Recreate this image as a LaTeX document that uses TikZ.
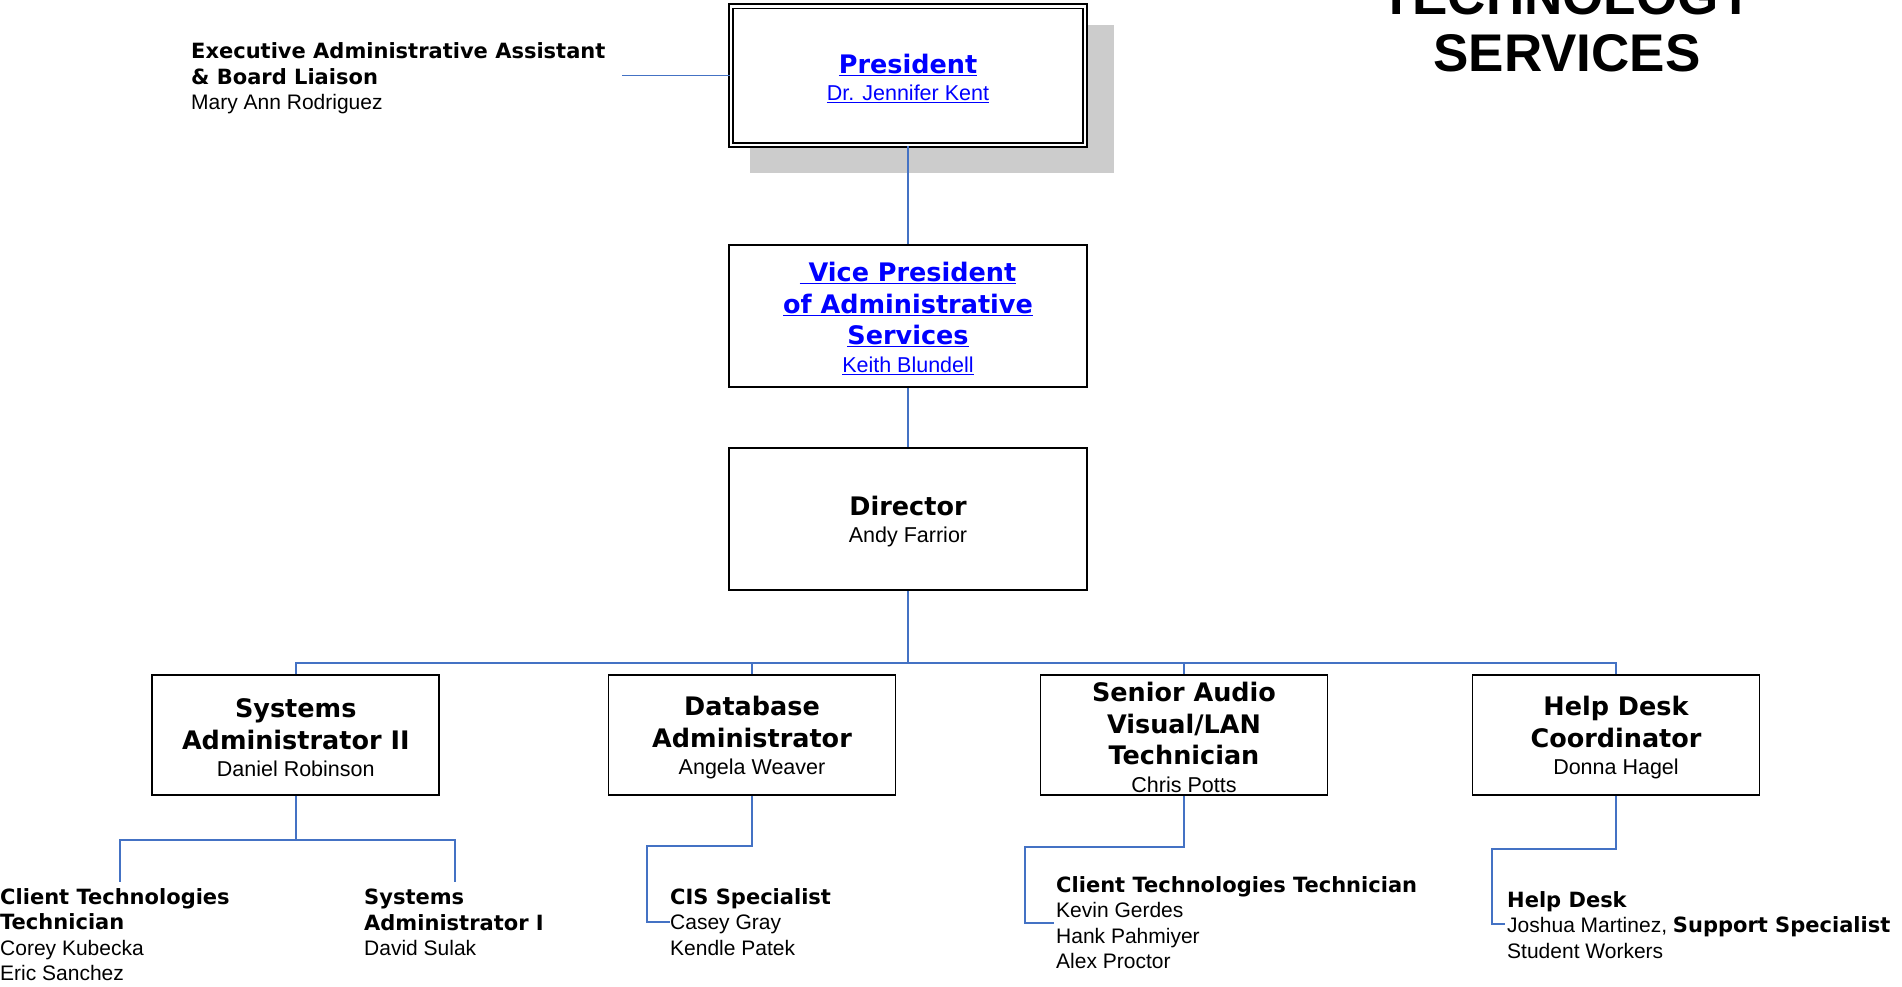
\documentclass[tikz,border=0pt]{standalone}
\usepackage{fontspec}
\setmainfont{Liberation Sans}
\newfontfamily\heavyfont{DejaVu Sans}
\usepackage{xcolor}
\usepackage{tikz}
\usetikzlibrary{positioning}
\usetikzlibrary{calc,backgrounds}
\definecolor{linkblue}{RGB}{0,0,255}
\definecolor{wireblue}{RGB}{68,114,196}
\definecolor{shadowgray}{RGB}{204,204,204}
\newcommand{\role}[1]{{\fontsize{25.5}{31.5}\heavyfont\bfseries #1}}
\newcommand{\staffrole}[1]{{\heavyfont\bfseries #1}}
\newcommand{\lnk}[1]{\textcolor{linkblue}{\underline{#1}}}
\newcommand{\boxstrut}{\rule{0pt}{24.5pt}}% pushes box text a bit down
\tikzset{
  orgbox/.style = {draw=black, fill=white, line width=1.8pt, align=center,
    inner sep=0pt, minimum width=287pt, minimum height=120pt,
    font=\fontsize{21.5}{31.5}\selectfont},% bottom row
  bigbox/.style = {orgbox, minimum width=358.2pt,
    minimum height=142.2pt},% vp, director
  dblbox/.style = {bigbox, double, double distance=2.5pt,
    minimum width=353.9pt, minimum height=138.6pt},% president
  staff/.style = {anchor=north west, align=left, inner sep=0pt,
    font=\fontsize{21}{25.5}\selectfont},% text without box
  wire/.style = {draw=wireblue, line width=1.6pt}
}

\begin{document}
\begin{tikzpicture}[x=1pt,y=-1pt]
\useasboundingbox (0,0) rectangle (1902,987);

\node[anchor=south, inner sep=0pt, align=center,
  font=\fontsize{53}{57}\selectfont\bfseries] (title) at (1567,72)
  {TECHNOLOGY\\SERVICES};

\node[dblbox] (pres) at (908,75.65)
  {\boxstrut\role{\lnk{President}}\\[-4pt]\lnk{Dr. Jennifer Kent}};
\begin{scope}[on background layer]
  \fill[shadowgray] ([shift={(20,20)}]pres.north west)
    rectangle ([shift={(28,27)}]pres.south east);
\end{scope}
\node[bigbox] (vp) at (908,316)
  {\boxstrut\role{\lnk{\ Vice President}}\\\role{\lnk{of Administrative}}\\
   \role{\lnk{Services}}\\[-4pt]\lnk{Keith Blundell}};
\node[bigbox] (dir) at (908,519)
  {\boxstrut\role{Director}\\[-4pt]Andy Farrior};

\node[orgbox] (sa2) at (295.75,735)
  {\boxstrut\role{Systems}\\\role{Administrator II}\\[-4pt]Daniel Robinson};
\node[orgbox] (dba) at (752,735)
  {\boxstrut\role{Database}\\\role{Administrator}\\[-4pt]Angela Weaver};
\node[orgbox] (av) at (1184,735)
  {\boxstrut\role{Senior Audio}\\\role{Visual/LAN}\\\role{Technician}\\[-4pt]Chris Potts};
\node[orgbox] (hdc) at (1616,735)
  {\boxstrut\role{Help Desk}\\\role{Coordinator}\\[-4pt]Donna Hagel};

\node[staff] (asst) at (191,42.5)
  {\staffrole{Executive Administrative Assistant}\\
   \staffrole{\& Board Liaison}\\Mary Ann Rodriguez};
\node[staff] (ctt) at (0,888)
  {\staffrole{Client Technologies}\\\staffrole{Technician}\\
   Corey Kubecka\\Eric Sanchez};
\node[staff] (sa1) at (364,889)
  {\staffrole{Systems}\\\staffrole{Administrator I}\\David Sulak};
\node[staff] (cis) at (670,888)
  {\staffrole{CIS Specialist}\\Casey Gray\\Kendle Patek};
\node[staff] (avt) at (1056,876)
  {\staffrole{Client Technologies Technician}\\Kevin Gerdes\\
   Hank Pahmiyer\\Alex Proctor};
\node[staff] (hdt) at (1507,891)
  {\staffrole{Help Desk}\\Joshua Martinez, \staffrole{Support Specialist}\\
   Student Workers};

% free ends of the connectors
\coordinate (asst-in) at (622,75.65);
\coordinate (ctt-in) at (120,882);
\coordinate (sa1-in) at (455,882);
\coordinate (cis-in) at (670,922);
\coordinate (avt-in) at (1054,923);
\coordinate (hdt-in) at (1505,924);

\draw[wire] (pres.west) -- (asst-in);
\draw[wire] (pres) -- (vp);
\draw[wire] (vp) -- (dir);
\draw[wire] (dir.south) -- ++(0,72) coordinate (bus);
\draw[wire] (sa2.north) |- (bus) -| (hdc.north);
\draw[wire] (dba.north) -- (dba.north |- bus);
\draw[wire] (av.north) -- (av.north |- bus);

\draw[wire] (sa2.south) -- ++(0,44) coordinate (sa2-fork) -| (ctt-in);
\draw[wire] (sa2-fork) -| (sa1-in);
\draw[wire] (dba.south) -- ++(0,50) -| ([xshift=-23pt]cis-in) -- (cis-in);
\draw[wire] (av.south) -- ++(0,51) -| ([xshift=-29pt]avt-in) -- (avt-in);
\draw[wire] (hdc.south) -- ++(0,53) -| ([xshift=-13pt]hdt-in) -- (hdt-in);
\end{tikzpicture}
\end{document}
